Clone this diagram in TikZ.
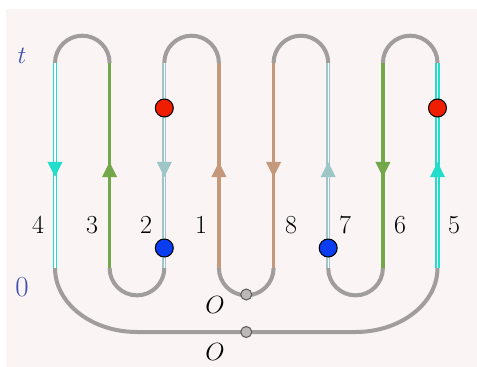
\documentclass[tikz,border=0pt]{standalone}
\usetikzlibrary{decorations.markings}
\definecolor{bg}{HTML}{FAF4F4}
\definecolor{arcgray}{HTML}{A19D9D}
\definecolor{turq}{HTML}{22DDCC}
\definecolor{grn}{HTML}{72A84A}
\definecolor{pale}{HTML}{9EC6C8}
\definecolor{tanc}{HTML}{C4987A}
\definecolor{lblue}{HTML}{3F4FB0}
\definecolor{reddot}{HTML}{F01E00}
\definecolor{bluedot}{HTML}{0A3CF0}
\definecolor{smallgray}{HTML}{BDB8B8}
\begin{document}
\begin{tikzpicture}[x=1pt,y=-1pt,
  grayarc/.style={draw=arcgray,line width=4pt},
  solidstrand/.style={draw=#1,line width=3.6pt},
  dblstrand/.style={draw=#1,line width=1.4pt,double=white,double distance=1.3pt},
  downarrow/.style={postaction={decorate,decoration={markings,
     mark=at position 0.556 with {\fill[#1] (0,0) -- (-15,7.5) -- (-15,-7.5) -- cycle;}}}},
  uparrow/.style={postaction={decorate,decoration={markings,
     mark=at position 0.517 with {\fill[#1] (0,0) -- (-15,7.5) -- (-15,-7.5) -- cycle;}}}},
  dot/.style={circle,draw=black,line width=1pt,fill=#1,minimum size=18pt,inner sep=0pt},
  smalldot/.style={circle,draw=black!65,line width=1pt,fill=smallgray,minimum size=11pt,inner sep=0pt},
  num/.style={font=\fontsize{26}{30}\selectfont,inner sep=0pt},
  axis/.style={font=\fontsize{29}{32}\selectfont,text=lblue,inner sep=0pt}
]
\useasboundingbox (0,0) rectangle (477,367);
\fill[bg] (6,9) rectangle (477,367);

% strand end coordinates
\foreach \n/\x in {4/55,3/109.6,2/164.3,1/218.9,8/273.6,7/328.2,6/382.9,5/437.5}{
  \coordinate (t\n) at (\x,63);
  \coordinate (b\n) at (\x,268);
}

% gray arcs
\draw[grayarc] (t4) arc[start angle=180,end angle=0,radius=27.3pt];
\draw[grayarc] (t2) arc[start angle=180,end angle=0,radius=27.3pt];
\draw[grayarc] (t8) arc[start angle=180,end angle=0,radius=27.3pt];
\draw[grayarc] (t6) arc[start angle=180,end angle=0,radius=27.3pt];
\draw[grayarc] (b3) arc[start angle=180,end angle=360,radius=27.35pt];
\draw[grayarc] (b1) arc[start angle=180,end angle=360,radius=27.35pt];
\draw[grayarc] (b7) arc[start angle=180,end angle=360,radius=27.35pt];
\draw[grayarc] (b4) arc[start angle=180,end angle=270,x radius=82pt,y radius=64pt]
   -- ++(218.5pt,0pt) arc[start angle=270,end angle=360,x radius=82pt,y radius=64pt];

% strands
\draw[dblstrand=turq,downarrow=turq] (t4) -- (b4);
\draw[solidstrand=grn,uparrow=grn] (b3) -- (t3);
\draw[dblstrand=pale,downarrow=pale] (t2) -- (b2);
\draw[solidstrand=tanc,uparrow=tanc] (b1) -- (t1);
\draw[solidstrand=tanc,downarrow=tanc] (t8) -- (b8);
\draw[dblstrand=pale,uparrow=pale] (b7) -- (t7);
\draw[solidstrand=grn,downarrow=grn] (t6) -- (b6);
\draw[dblstrand=turq,uparrow=turq] (b5) -- (t5);

% dots
\node[dot=reddot] (r2) at (164.3,108) {};
\node[dot=reddot] (r5) at (437.5,108) {};
\node[dot=bluedot] (u2) at (164.3,248) {};
\node[dot=bluedot] (u7) at (328.2,248) {};
\node[smalldot] (o1) at (246.25,294.5) {};
\node[smalldot] (o2) at (246.25,332) {};

% labels
\node[num] (l4) at (38,225) {4};
\node[num] (l3) at (92,225) {3};
\node[num] (l2) at (146,225) {2};
\node[num] (l1) at (201,225) {1};
\node[num] (l8) at (291,225) {8};
\node[num] (l7) at (345,225) {7};
\node[num] (l6) at (400,225) {6};
\node[num] (l5) at (454,225) {5};
\node[num] (lo1) at (215,305) {$O$};
\node[num] (lo2) at (215,352) {$O$};
\node[axis] (lt) at (22,56) {$t$};
\node[axis] (l0) at (22,287) {0};
\end{tikzpicture}
\end{document}
